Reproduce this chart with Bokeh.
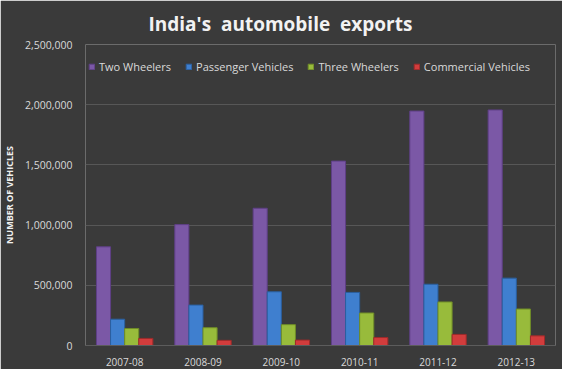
from bokeh.plotting import figure
from bokeh.models import ColumnDataSource, FactorRange, Legend, LegendItem, FixedTicker, NumeralTickFormatter
from bokeh.transform import dodge
from bokeh.embed import file_html
from bokeh.resources import INLINE

years = ["2007-08", "2008-09", "2009-10", "2010-11", "2011-12", "2012-13"]
two_wheelers = [819713, 1004174, 1140058, 1531619, 1947313, 1956378]
passenger_vehicles = [218401, 335729, 446145, 441000, 508783, 559414]
three_wheelers = [141225, 148066, 173214, 269968, 361753, 303088]
commercial_vehicles = [58994, 42625, 45009, 66000, 92258, 80027]
y_ticks = [0, 500000, 1000000, 1500000, 2000000, 2500000]

series = [
    ("Two Wheelers", "two", "#7b58a6", "#5e3f86"),
    ("Passenger Vehicles", "pv", "#3f7fcf", "#2a5f9f"),
    ("Three Wheelers", "three", "#98bb3b", "#6f8c27"),
    ("Commercial Vehicles", "cv", "#d23c3c", "#9e2a2a"),
]

src = ColumnDataSource(dict(x=years, two=two_wheelers, pv=passenger_vehicles,
                            three=three_wheelers, cv=commercial_vehicles))

BG = "#3a3a3a"
TXT = "#d9d9d9"

p = figure(width=562, height=369, x_range=FactorRange(*years, range_padding=0),
           y_range=(0, 2500000), output_backend="svg", toolbar_location=None,
           min_border_left=84, min_border_right=7, min_border_top=44, min_border_bottom=24)
p.background_fill_color = BG
p.border_fill_color = BG
p.outline_line_color = None

p.title.text = "India's\u00a0\u00a0automobile\u00a0\u00a0exports"
p.title.align = "left"
p.title.text_color = "#f2f2f2"
p.title.text_font = "Open Sans"
p.title.text_font_size = "19px"
p.title.text_font_style = "bold"
p.title.offset = 63
p.title.standoff = 16

offsets = [-0.27, -0.09, 0.09, 0.27]
items = []
for (name, col, color, edge), off in zip(series, offsets):
    r = p.vbar(x=dodge("x", off, range=p.x_range), top=col, width=0.18, source=src,
               fill_color=color, line_color=edge, line_width=1)
    items.append(LegendItem(label=name, renderers=[r]))

legend = Legend(items=items, orientation="horizontal",
                background_fill_alpha=0, border_line_alpha=0,
                label_text_color=TXT, label_text_font="Open Sans", label_text_font_size="11px",
                glyph_width=7, glyph_height=7, label_standoff=4, spacing=14,
                padding=0, margin=0, label_height=12)
legend.location = (3, 271)
p.add_layout(legend)

p.yaxis.ticker = FixedTicker(ticks=y_ticks)
p.yaxis.formatter = NumeralTickFormatter(format="0,0")
p.yaxis.axis_line_color = None
p.yaxis.major_tick_line_color = None
p.yaxis.minor_tick_line_color = None
p.yaxis.major_label_text_color = TXT
p.yaxis.major_label_text_font = "Open Sans"
p.yaxis.major_label_text_font_size = "10.5px"
p.yaxis.major_label_standoff = 7
p.yaxis.axis_label = "NUMBER OF VEHICLES"
p.yaxis.axis_label_text_color = "#f0f0f0"
p.yaxis.axis_label_text_font = "Open Sans"
p.yaxis.axis_label_text_font_size = "9px"
p.yaxis.axis_label_text_font_style = "bold"
p.yaxis.axis_label_standoff = 6

p.xaxis.axis_line_color = "#5c5c5c"
p.xaxis.major_tick_line_color = None
p.xaxis.minor_tick_line_color = None
p.xaxis.major_label_text_color = TXT
p.xaxis.major_label_text_font = "Open Sans"
p.xaxis.major_label_text_font_size = "10px"
p.xaxis.major_label_standoff = 6

p.xgrid.grid_line_color = None
p.ygrid.grid_line_color = "#575757"
p.ygrid.grid_line_width = 1

open("out.html", "w").write(file_html(p, INLINE))
